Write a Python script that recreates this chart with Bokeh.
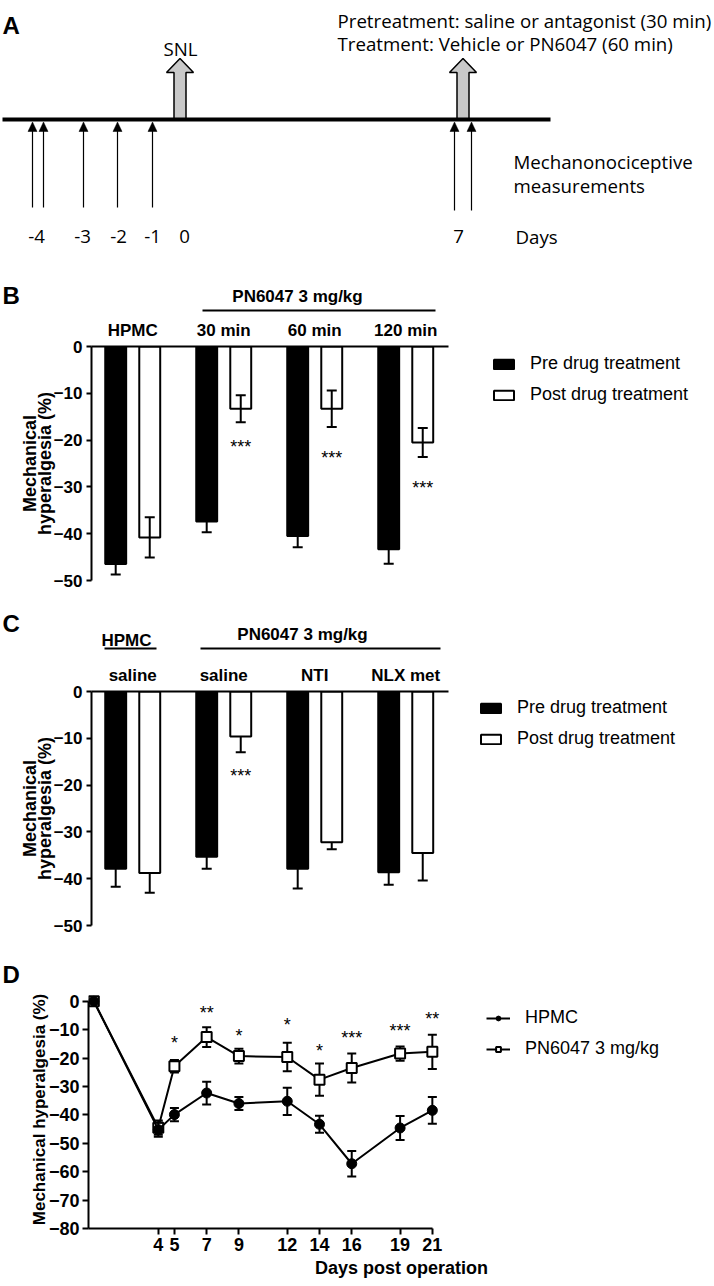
from bokeh.plotting import figure
from bokeh.layouts import column
from bokeh.models import Range1d, FixedTicker, Legend, LegendItem
from bokeh.embed import file_html
from bokeh.resources import INLINE
from bokeh.core.properties import value

W = 714
SANS = "Liberation Sans"
DIAG = "Open Sans"
INK = "black"

# ---------------- Panel A: study design (schematic timeline) ----------------
a_measure_x = [32, 43, 83, 117, 152, 454, 471]
a_measure_bottom = [207, 207, 207, 207, 207, 210, 210]
a_day_labels = ["-4", "-3", "-2", "-1", "0", "7"]
a_day_x = [36, 82, 118, 152, 184, 458]
a_event_x = [179.5, 462.5]

# ---------------- Panel B ----------------
b_groups = ["HPMC", "30 min", "60 min", "120 min"]
b_pre = [-46.5, -37.4, -40.5, -43.3]
b_pre_sem = [2.2, 2.3, 2.4, 3.1]
b_post = [-40.8, -13.3, -13.3, -20.5]
b_post_sem = [4.3, 2.9, 3.9, 3.1]
b_stars = ["", "***", "***", "***"]
b_star_y = [0, -20.7, -22.9, -29.3]

# ---------------- Panel C ----------------
c_groups = ["saline", "saline", "NTI", "NLX met"]
c_pre = [-37.9, -35.3, -37.9, -38.6]
c_pre_sem = [3.8, 2.6, 4.2, 2.7]
c_post = [-38.8, -9.6, -32.2, -34.5]
c_post_sem = [4.2, 3.4, 1.5, 5.9]
c_stars = ["", "***", "", ""]
c_star_y = [0, -17.3, 0, 0]

# ---------------- Panel D ----------------
d_days = [0, 4, 5, 7, 9, 12, 14, 16, 19, 21]
d_hpmc = [0, -45.2, -39.9, -32.3, -36.0, -35.2, -43.3, -57.2, -44.6, -38.4]
d_hpmc_sem = [0, 2.5, 2.3, 4.0, 2.3, 4.8, 3.0, 4.5, 4.2, 4.7]
d_pn = [0, -44.5, -22.9, -12.6, -19.3, -19.6, -27.6, -23.5, -18.4, -17.8]
d_pn_sem = [0, 2.5, 2.2, 3.5, 2.6, 5.0, 5.7, 5.1, 2.5, 6.0]
d_star_days = [5, 7, 9, 12, 14, 16, 19, 21]
d_stars = ["*", "**", "*", "*", "*", "***", "***", "**"]
d_star_y = [-13.1, -2.6, -10.8, -7.0, -16.1, -11.4, -9.2, -4.7]
d_ticks = [4, 5, 7, 9, 12, 14, 16, 19, 21]


def common(p):
    p.outline_line_color = None
    p.background_fill_color = "white"
    p.border_fill_color = "white"
    p.frame_align = False
    for g in p.grid:
        g.visible = False


def style_axis(ax, size):
    ax.axis_line_color = INK
    ax.axis_line_width = 2
    ax.major_tick_line_color = INK
    ax.major_tick_line_width = 2
    ax.major_tick_in = 0
    ax.minor_tick_line_color = None
    ax.major_label_text_font = SANS
    ax.major_label_text_font_style = "bold"
    ax.major_label_text_font_size = size
    ax.major_label_text_color = INK
    ax.axis_label_text_font = SANS
    ax.axis_label_text_font_style = "bold"
    ax.axis_label_text_color = INK


def blank(h, xr, yr):
    p = figure(width=W, height=h, x_range=xr, y_range=yr, output_backend="svg",
               toolbar_location=None, x_axis_location=None, y_axis_location=None,
               min_border=0, min_border_left=0, min_border_right=0,
               min_border_top=0, min_border_bottom=0)
    common(p)
    return p


def txt(p, x, y, t, size, font=SANS, bold=False, align="left"):
    p.text(x=x, y=y, text=t, text_font=value(font), text_font_size=size,
           text_font_style="bold" if bold else "normal", text_align=align,
           text_baseline="alphabetic", text_color=INK)


# =========================== Panel A (rows 0..250) ===========================
pa = blank(250, Range1d(0, W), Range1d(250, 0))
bx, by = [], []
for cx in a_event_x:
    bx.append([cx - 6, cx - 6, cx - 13.5, cx, cx + 13.5, cx + 6, cx + 6])
    by.append([119, 72, 72, 58, 72, 72, 119])
pa.patches(bx, by, fill_color="#c9c9c9", line_color=INK, line_width=1.5)
pa.segment(x0=[2], y0=[119], x1=[550], y1=[119], line_color=INK, line_width=4)
pa.segment(x0=a_measure_x, y0=a_measure_bottom, x1=a_measure_x, y1=[130] * len(a_measure_x),
           line_color=INK, line_width=1.2)
pa.patches([[x - 4.5, x, x + 4.5] for x in a_measure_x],
           [[131, 121.5, 131] for _ in a_measure_x],
           fill_color=INK, line_color=INK, line_width=0.5)
FA = "18.7px"
txt(pa, [2], [25], ["A"], "24px", bold=True)
txt(pa, [180], [48], ["SNL"], FA, font=DIAG, align="center")
txt(pa, [337, 337], [20, 43],
    ["Pretreatment: saline or antagonist (30 min)", "Treatment: Vehicle or PN6047 (60 min)"],
    FA, font=DIAG)
txt(pa, [513, 513], [161, 185], ["Mechanonociceptive", "measurements"], FA, font=DIAG)
txt(pa, a_day_x, [236] * len(a_day_x), a_day_labels, FA, font=DIAG, align="center")
txt(pa, [515], [236], ["Days"], FA, font=DIAG)

# =========================== Panels B and C ===========================
UNIT = 91.0          # pixels per group
X0 = -0.453
LEFT = 91
FRAME_H = 234
PXY = FRAME_H / 50.0
XL, XR = X0 - LEFT / UNIT, X0 + (W - LEFT) / UNIT
X = lambda px: X0 + (px - LEFT) / UNIT


def bar_panel(groups, pre, pre_sem, post, post_sem, stars, star_y, both_sides,
              fig_h, frame_top, legend_xy):
    p = figure(width=W, height=fig_h, output_backend="svg", toolbar_location=None,
               x_range=Range1d(X0, XR), y_range=Range1d(-50, 0),
               x_axis_location="above", y_axis_location="left",
               min_border_left=LEFT, min_border_right=0, min_border_top=frame_top,
               min_border_bottom=fig_h - frame_top - FRAME_H)
    common(p)
    idx = list(range(len(groups)))
    x_pre = [i - 0.187 for i in idx]
    x_post = [i + 0.187 for i in idx]
    r_pre = p.vbar(x=x_pre, top=0, bottom=pre, width=0.23, fill_color=INK,
                   line_color=INK, line_width=2)
    r_post = p.vbar(x=x_post, top=0, bottom=post, width=0.23, fill_color="white",
                    line_color=INK, line_width=2)
    for xs, m, s in ((x_pre, pre, pre_sem), (x_post, post, post_sem)):
        lo = [a - b for a, b in zip(m, s)]
        hi = [a + b for a, b in zip(m, s)] if both_sides else list(m)
        p.segment(x0=xs, y0=lo, x1=xs, y1=hi, line_color=INK, line_width=2)
        p.scatter(x=xs, y=lo, marker="dash", size=10, line_color=INK, line_width=2)
        if both_sides:
            p.scatter(x=xs, y=hi, marker="dash", size=10, line_color=INK, line_width=2)
    sel = [i for i in idx if stars[i]]
    p.text(x=[x_post[i] for i in sel], y=[star_y[i] for i in sel], text=[stars[i] for i in sel],
           text_font=value(SANS), text_font_size="18px", text_align="center",
           text_baseline="alphabetic", y_offset=4, text_color=INK)

    xa = p.xaxis[0]
    style_axis(xa, "17px")
    xa.ticker = FixedTicker(ticks=idx)
    xa.major_label_overrides = {i: g for i, g in enumerate(groups)}
    xa.major_tick_out = 0
    xa.major_tick_line_color = None
    xa.major_label_standoff = 7
    xa.bounds = (X0, X(448))

    ya = p.yaxis[0]
    style_axis(ya, "17px")
    ya.ticker = FixedTicker(ticks=[-50, -40, -30, -20, -10, 0])
    ya.major_tick_out = 5
    ya.major_label_standoff = 4
    ya.axis_label = "Mechanical\nhyperalgesia (%)"
    ya.axis_label_text_font_size = "18px"
    ya.axis_label_text_line_height = 0.75
    ya.axis_label_standoff = -4

    leg = Legend(items=[LegendItem(label="Pre drug treatment", renderers=[r_pre]),
                        LegendItem(label="Post drug treatment", renderers=[r_post])],
                 location=legend_xy, glyph_width=25, glyph_height=12, label_height=12,
                 label_standoff=14, spacing=10, padding=0, margin=0,
                 border_line_color=None, background_fill_alpha=0,
                 label_text_font=SANS, label_text_font_size="18px", label_text_color=INK)
    p.add_layout(leg)
    return p


def head(h, ref_top, ref_bottom, zero_ref):
    Y = lambda py: (zero_ref - py) / PXY
    return blank(h, Range1d(XL, XR), Range1d(Y(ref_bottom), Y(ref_top))), Y


# ---- B header (rows 250..314) ----
pbh, Yb = head(64, 250, 314, 346)
txt(pbh, [X(2)], [Yb(295)], ["B"], "24px", bold=True)
txt(pbh, [X(297)], [Yb(296)], ["PN6047 3 mg/kg"], "17px", bold=True, align="center")
pbh.segment(x0=[X(202)], y0=[Yb(310)], x1=[X(435)], y1=[Yb(310)], line_color=INK, line_width=2)

# ---- B bars (rows 314..592, zero line at 346) ----
pb = bar_panel(b_groups, b_pre, b_pre_sem, b_post, b_post_sem, b_stars, b_star_y, True,
               278, 32, (400, 175))

# ---- C header (rows 592..652) ----
pch, Yc = head(60, 592, 652, 691)
txt(pch, [X(2)], [Yc(623)], ["C"], "24px", bold=True)
txt(pch, [X(126), X(302)], [Yc(640), Yc(634)], ["HPMC", "PN6047 3 mg/kg"], "17px",
    bold=True, align="center")
pch.segment(x0=[X(104), X(200)], y0=[Yc(648)] * 2, x1=[X(156), X(440)], y1=[Yc(648)] * 2,
            line_color=INK, line_width=2)

# ---- C bars (rows 652..935, zero line at 691) ----
pc = bar_panel(c_groups, c_pre, c_pre_sem, c_post, c_post_sem, c_stars, c_star_y, False,
               283, 39, (387, 176))

# =========================== Panel D ===========================
pdh = blank(55, Range1d(0, W), Range1d(990, 935))
txt(pdh, [2], [974], ["D"], "24px", bold=True)

DU = 16.12
DX0 = -0.33
DLEFT = 88
DH = 296
DBOT = 58
DPY = 2.84
pd = figure(width=W, height=DH, output_backend="svg", toolbar_location=None,
            x_range=Range1d(DX0, DX0 + (W - DLEFT) / DU),
            y_range=Range1d(-80, -80 + (DH - DBOT) / DPY),
            min_border_left=DLEFT, min_border_right=0, min_border_top=0,
            min_border_bottom=DBOT)
common(pd)


def errbars(p, xs, m, s):
    xx = [x for x, e in zip(xs, s) if e > 0]
    lo = [a - e for a, e in zip(m, s) if e > 0]
    hi = [a + e for a, e in zip(m, s) if e > 0]
    p.segment(x0=xx, y0=lo, x1=xx, y1=hi, line_color=INK, line_width=2)
    p.scatter(x=xx + xx, y=lo + hi, marker="dash", size=9, line_color=INK, line_width=2)


errbars(pd, d_days, d_pn, d_pn_sem)
l_p = pd.line(d_days, d_pn, line_color=INK, line_width=2)
s_p = pd.scatter(d_days, d_pn, marker="square", size=10, fill_color="white", line_color=INK,
                 line_width=2)
errbars(pd, d_days, d_hpmc, d_hpmc_sem)
l_h = pd.line(d_days, d_hpmc, line_color=INK, line_width=2)
s_h = pd.scatter(d_days, d_hpmc, marker="circle", size=10, fill_color=INK, line_color=INK)

pd.text(x=d_star_days, y=d_star_y, text=d_stars, text_font=value(SANS), text_font_size="18px",
        text_align="center", text_baseline="alphabetic", y_offset=4, text_color=INK)

xa = pd.xaxis[0]
style_axis(xa, "18px")
xa.ticker = FixedTicker(ticks=d_ticks)
xa.bounds = (DX0, 21)
xa.major_tick_out = 6
xa.major_label_standoff = 3
xa.axis_label = "Days post operation"
xa.axis_label_text_font_size = "18px"
xa.axis_label_standoff = 4

ya = pd.yaxis[0]
style_axis(ya, "18px")
ya.ticker = FixedTicker(ticks=[-80, -70, -60, -50, -40, -30, -20, -10, 0])
ya.bounds = (-80, 0)
ya.major_tick_out = 6
ya.major_label_standoff = 3
ya.axis_label = "Mechanical hyperalgesia (%)"
ya.axis_label_text_font_size = "17px"
ya.axis_label_standoff = -3

legd = Legend(items=[LegendItem(label="HPMC", renderers=[l_h, s_h]),
                     LegendItem(label="PN6047 3 mg/kg", renderers=[l_p, s_p])],
              location=(398, 169), glyph_width=24, glyph_height=12, label_height=12,
              label_standoff=15, spacing=10, padding=0, margin=0,
              border_line_color=None, background_fill_alpha=0,
              label_text_font=SANS, label_text_font_size="18px", label_text_color=INK)
pd.add_layout(legd)

layout = column(pa, pbh, pb, pch, pc, pdh, pd, spacing=0)
open("out.html", "w").write(file_html(layout, INLINE))
